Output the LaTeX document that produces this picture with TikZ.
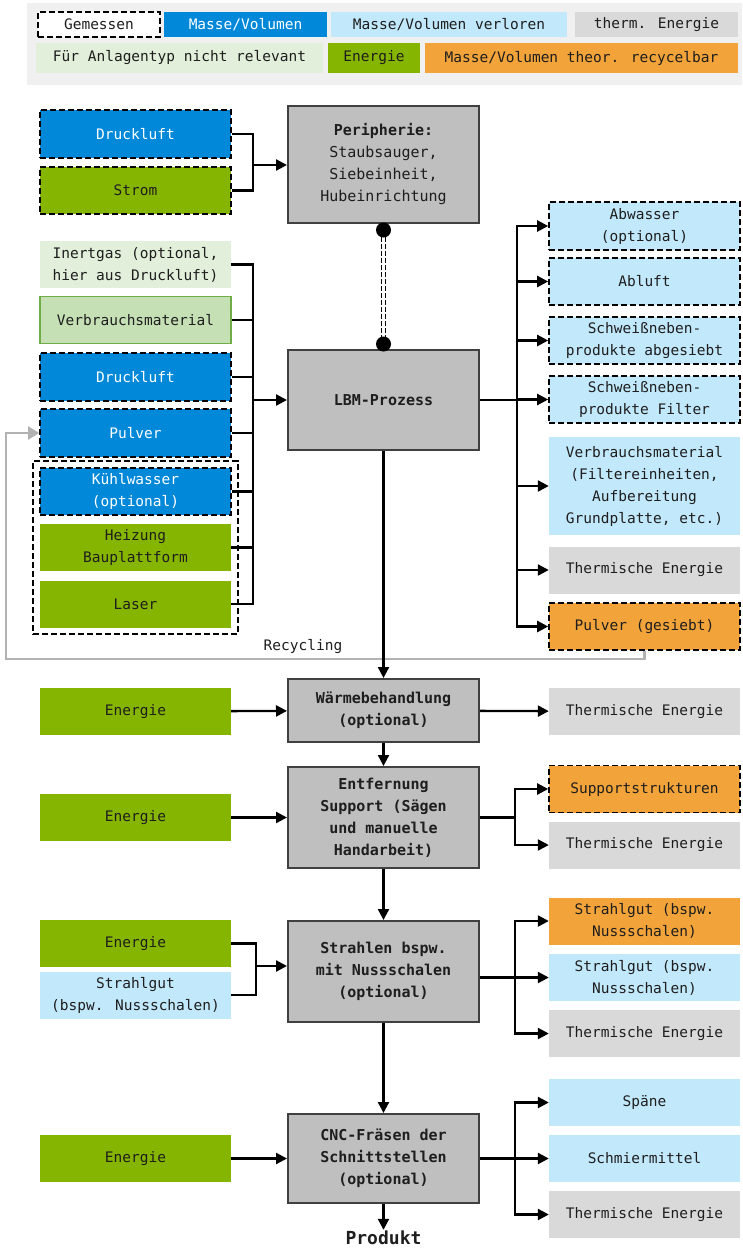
\documentclass[tikz,border=0pt]{standalone}
\usepackage{fontspec}
\setmainfont{DejaVu Sans Mono}
\usetikzlibrary{arrows.meta,positioning,calc,fit}
\definecolor{mvblue}{RGB}{2,136,216}
\definecolor{lostblue}{RGB}{194,233,251}
\definecolor{thgray}{RGB}{217,217,217}
\definecolor{nrgreen}{RGB}{226,239,218}
\definecolor{engreen}{RGB}{134,181,0}
\definecolor{recorange}{RGB}{242,163,58}
\definecolor{vmgreen}{RGB}{197,224,180}
\definecolor{vmborder}{RGB}{112,173,71}
\definecolor{procgray}{RGB}{191,191,191}
\definecolor{legbg}{RGB}{240,240,240}
\definecolor{txt}{RGB}{30,30,30}

\begin{document}
\begin{tikzpicture}[
  x=1pt, y=-1pt,
  block/.style={minimum width=191pt, minimum height=47pt, inner sep=0pt, align=center, text=txt, font=\fontsize{14.5}{22}\selectfont},
  measured/.style={draw=black, line width=1.6pt, dash pattern=on 6pt off 3pt},
  mvbox/.style={block, fill=mvblue, text=white},
  lostbox/.style={block, fill=lostblue},
  thbox/.style={block, fill=thgray},
  nrbox/.style={block, fill=nrgreen},
  enbox/.style={block, fill=engreen},
  recbox/.style={block, fill=recorange},
  procbox/.style={block, fill=procgray, draw=black!75, line width=2pt, font=\bfseries\fontsize{15}{22}\selectfont},
  arrow/.style={-{Triangle[length=11pt,width=11pt]}, line width=2.3pt},
  conn/.style={line width=2.3pt},
  recyc/.style={draw=black!30, line width=2.2pt, -{Triangle[length=11pt,width=13pt]}}
]
\useasboundingbox (0,0) rectangle (742,1248);

% legend
\fill[legbg] (27,3) rectangle (742,85);
\node[block, measured, fill=white, minimum width=122pt, minimum height=25pt] (lgem) at (99,24.5) {Gemessen};
\node[mvbox, minimum width=163pt, minimum height=25pt] (lmv) at (245.5,24.5) {Masse/Volumen};
\node[lostbox, minimum width=236pt, minimum height=25pt] (lmvv) at (449,24.5) {Masse/Volumen verloren};
\node[thbox, minimum width=163pt, minimum height=25pt] (lth) at (656.5,24.5) {therm. Energie};
\node[nrbox, minimum width=287pt, minimum height=30pt] (lnr) at (179.5,58) {Für Anlagentyp nicht relevant};
\node[enbox, minimum width=92pt, minimum height=30pt] (len) at (374,58) {Energie};
\node[recbox, minimum width=313pt, minimum height=30pt] (lrec) at (581.5,58) {Masse/Volumen theor. recycelbar};

% process chain
\node[procbox, minimum height=117pt] (peri) at (383.5,164.5) {Peripherie:\\\mdseries Staubsauger,\\\mdseries Siebeinheit,\\\mdseries Hubeinrichtung};
\node[procbox, minimum height=100pt] (lbm) at (383.5,400) {LBM-Prozess};
\node[procbox, minimum height=63pt] (waerme) at (383.5,710.5) {Wärmebehandlung\\(optional)};
\node[procbox, minimum height=101pt] (entf) at (383.5,817.5) {Entfernung\\Support (Sägen\\und manuelle\\Handarbeit)};
\node[procbox, minimum height=101pt] (strahl) at (383.5,971.5) {Strahlen bspw.\\mit Nussschalen\\(optional)};
\node[procbox, minimum height=89pt] (cnc) at (383.5,1158.5) {CNC-Fräsen der\\Schnittstellen\\(optional)};
\node[font=\bfseries\fontsize{18}{20}\selectfont, text=txt, inner sep=1pt] (prod) at (383.5,1238) {Produkt};

% inputs
\node[mvbox, measured, minimum height=48pt] (druck1) at (135.5,134) {Druckluft};
\node[enbox, measured] (strom) at (135.5,190.5) {Strom};
\node[nrbox] (inert) at (135.5,264.5) {Inertgas (optional,\\hier aus Druckluft)};
\node[block, fill=vmgreen, draw=vmborder, line width=1.5pt] (verbr) at (135.5,320) {Verbrauchsmaterial};
\node[mvbox, measured, minimum height=48pt] (druck2) at (135.5,377) {Druckluft};
\node[mvbox, measured, minimum height=48pt] (pulver) at (135.5,433) {Pulver};
\node[mvbox, measured] (kuehl) at (135.5,491.5) {Kühlwasser\\(optional)};
\node[enbox] (heiz) at (135.5,547.5) {Heizung\\Bauplattform};
\node[enbox] (laser) at (135.5,604) {Laser};
\node[measured, fit=(kuehl)(heiz)(laser), inner xsep=6pt, inner ysep=6.5pt] (grp) {};
\node[enbox] (e1) at (135.5,711.5) {Energie};
\node[enbox] (e2) at (135.5,817.5) {Energie};
\node[enbox] (e3) at (135.5,943.5) {Energie};
\node[lostbox] (sgut) at (135.5,995) {Strahlgut\\(bspw. Nussschalen)};
\node[enbox] (e4) at (135.5,1158.5) {Energie};

% outputs
\node[lostbox, measured, minimum height=48pt] (abw) at (644.5,226) {Abwasser\\(optional)};
\node[lostbox, measured] (abl) at (644.5,281.5) {Abluft};
\node[lostbox, measured] (sw1) at (644.5,340.5) {Schweißneben-\\produkte abgesiebt};
\node[lostbox, measured] (sw2) at (644.5,399.5) {Schweißneben-\\produkte Filter};
\node[lostbox, minimum height=98pt] (vm) at (644.5,486) {Verbrauchsmaterial\\(Filtereinheiten,\\Aufbereitung\\Grundplatte, etc.)};
\node[thbox] (th1) at (644.5,570) {Thermische Energie};
\node[recbox, measured] (pg) at (644.5,626.5) {Pulver (gesiebt)};
\node[thbox] (th2) at (644.5,711.5) {Thermische Energie};
\node[recbox, measured] (sup) at (644.5,789) {Supportstrukturen};
\node[thbox] (th3) at (644.5,845) {Thermische Energie};
\node[recbox] (sgo) at (644.5,921) {Strahlgut (bspw.\\Nussschalen)};
\node[lostbox] (sgb) at (644.5,977.5) {Strahlgut (bspw.\\Nussschalen)};
\node[thbox] (th4) at (644.5,1033.5) {Thermische Energie};
\node[lostbox] (spaene) at (644.5,1102.5) {Späne};
\node[lostbox] (schm) at (644.5,1158.5) {Schmiermittel};
\node[thbox] (th5) at (644.5,1214.5) {Thermische Energie};

% recycling loop
\coordinate (rc) at (6,659);
\draw[recyc] (pg.south) |- (rc) |- (pulver.west);
\node[font=\fontsize{14.5}{16}\selectfont, text=txt] (rlab) at (303,647) {Recycling};

% peripherie link
\coordinate (dtop) at ([yshift=-6pt]peri.south);
\coordinate (dbot) at ([yshift=5pt]lbm.north);
\draw[line width=1.4pt, double=white, double distance=3pt, dash pattern=on 5pt off 2pt] (dtop) -- (dbot);
\fill (dtop) circle (7.5pt);
\fill (dbot) circle (7.5pt);

% connectors
\coordinate (jp) at (253,165);
\draw[conn] (druck1.east) -| (jp) |- (strom.east);
\draw[arrow] (jp) -- (jp -| peri.west);

\coordinate (jl) at (253,400);
\draw[conn] (inert.east) -| (jl) |- (laser.east);
\foreach \n in {verbr,druck2,pulver,kuehl,heiz}
  \draw[conn] (\n.east) -- (\n.east -| jl);
\draw[arrow] (jl) -- (lbm);

\coordinate (jr) at (517,400);
\draw[conn] (lbm) -- (jr);
\draw[arrow] (jr) |- (abw);
\draw[arrow] (jr) |- (pg);
\foreach \n in {abl,sw1,sw2,vm,th1}
  \draw[arrow] (jr |- \n.west) -- (\n);

\draw[arrow] (lbm) -- (waerme);
\draw[arrow] (e1) -- (waerme);
\draw[arrow] (waerme) -- (th2);
\draw[arrow] (waerme) -- (entf);

\draw[arrow] (e2) -- (entf);
\coordinate (je) at (515,817.5);
\draw[conn] (entf) -- (je);
\draw[arrow] (je) |- (sup);
\draw[arrow] (je) |- (th3);
\draw[arrow] (entf) -- (strahl);

\coordinate (js) at (256,966);
\draw[conn] (e3.east) -| (js) |- (sgut.east);
\draw[arrow] (js) -- (js -| strahl.west);
\coordinate (jt) at (515,977.5);
\draw[arrow] (strahl.east |- sgb) -- (sgb);
\draw[arrow] (jt) |- (sgo);
\draw[arrow] (jt) |- (th4);
\draw[arrow] (strahl) -- (cnc);

\draw[arrow] (e4) -- (cnc);
\draw[arrow] (cnc) -- (schm);
\coordinate (jc) at (515,1158.5);
\draw[arrow] (jc) |- (spaene);
\draw[arrow] (jc) |- (th5);
\draw[arrow] (cnc) -- (prod);
\end{tikzpicture}
\end{document}
